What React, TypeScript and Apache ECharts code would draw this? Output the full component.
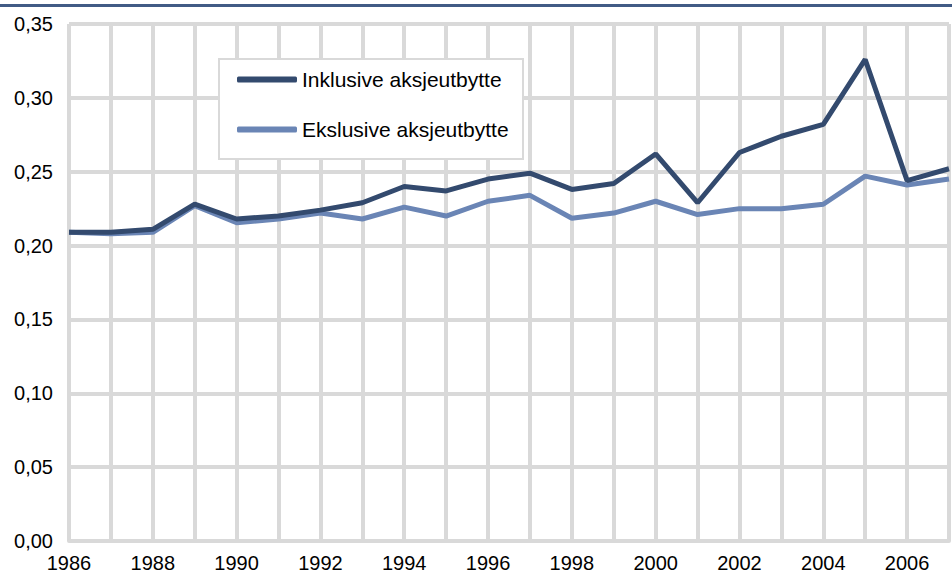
import React, { useEffect, useRef } from "react";
import * as echarts from "echarts";

const years = [1986, 1987, 1988, 1989, 1990, 1991, 1992, 1993, 1994, 1995, 1996, 1997, 1998, 1999, 2000, 2001, 2002, 2003, 2004, 2005, 2006, 2007];
const inklusive = [0.209, 0.209, 0.211, 0.228, 0.218, 0.220, 0.224, 0.229, 0.240, 0.237, 0.245, 0.249, 0.238, 0.242, 0.262, 0.229, 0.263, 0.274, 0.282, 0.326, 0.244, 0.252];
const eksklusive = [0.209, 0.208, 0.209, 0.227, 0.2155, 0.218, 0.222, 0.218, 0.226, 0.220, 0.230, 0.234, 0.2185, 0.222, 0.230, 0.221, 0.225, 0.225, 0.228, 0.247, 0.241, 0.245];
const seriesNames = ["Inklusive aksjeutbytte", "Ekslusive aksjeutbytte"];
const yTicks = [0, 0.05, 0.1, 0.15, 0.2, 0.25, 0.3, 0.35];

export default function App() {
  const ref = useRef<HTMLDivElement>(null);
  useEffect(() => {
    if (!ref.current) return;
    const chart = echarts.init(ref.current, null, { renderer: "svg" });
    const font = "'Liberation Sans', Arial, sans-serif";
    chart.setOption({
      animation: false,
      backgroundColor: "#ffffff",
      grid: { left: 69, right: -6, top: 24, bottom: 34, containLabel: false },
      xAxis: {
        type: "value",
        min: 1986,
        max: 2007,
        interval: 1,
        axisLine: { show: true, lineStyle: { color: "#d9d9d9", width: 4 } },
        axisTick: { show: false },
        splitLine: { show: true, lineStyle: { color: "#d9d9d9", width: 4 } },
        axisLabel: {
          color: "#000",
          fontSize: 20,
          fontFamily: font,
          margin: 12,
          formatter: (v: number) => (v % 2 === 0 ? String(v) : ""),
        },
      },
      yAxis: {
        type: "value",
        min: 0,
        max: yTicks[yTicks.length - 1],
        interval: 0.05,
        axisLine: { show: false },
        axisTick: { show: false },
        splitLine: { show: true, lineStyle: { color: "#d9d9d9", width: 4 } },
        axisLabel: {
          color: "#000",
          fontSize: 20,
          fontFamily: font,
          margin: 16,
          formatter: (v: number) => v.toFixed(2).replace(".", ","),
        },
      },
      legend: {
        orient: "vertical",
        left: 237,
        top: 69,
        itemWidth: 60,
        itemHeight: 6,
        itemGap: 29,
        icon: "roundRect",
        padding: 0,
        z: 6,
        textStyle: { color: "#000", fontSize: 21, fontFamily: font, padding: [0, 0, 0, 0] },
        data: seriesNames,
      },
      graphic: [
        {
          type: "rect",
          left: 0,
          top: 4,
          shape: { width: 952, height: 3 },
          style: { fill: "#415b85" },
        },
        {
          type: "rect",
          z: 5,
          shape: { x: 219, y: 59, width: 304, height: 100 },
          style: { fill: "#ffffff", stroke: "#d9d9d9", lineWidth: 2 },
        },
      ],
      series: [
        {
          name: seriesNames[0],
          type: "line",
          symbol: "none",
          z: 3,
          lineStyle: { color: "#334a6e", width: 5 },
          itemStyle: { color: "#334a6e" },
          data: years.map((y, i) => [y, inklusive[i]]),
        },
        {
          name: seriesNames[1],
          type: "line",
          symbol: "none",
          z: 2,
          lineStyle: { color: "#6a85b5", width: 5 },
          itemStyle: { color: "#6a85b5" },
          data: years.map((y, i) => [y, eksklusive[i]]),
        },
      ],
    });
    return () => chart.dispose();
  }, []);
  return <div ref={ref} style={{ width: 952, height: 575, position: "fixed", left: 0, top: 0 }} />;
}
